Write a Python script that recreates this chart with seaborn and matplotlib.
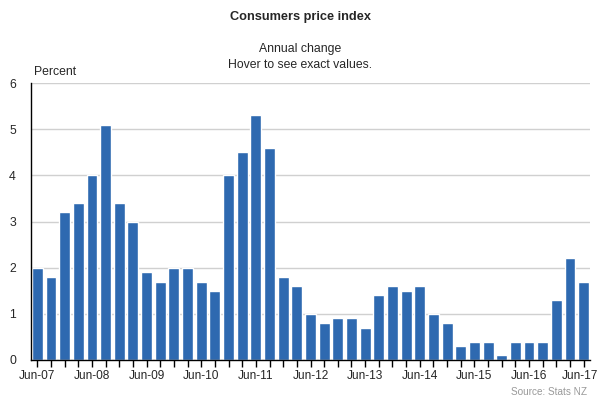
import numpy as np
import pandas as pd
import seaborn as sns
import matplotlib.pyplot as plt
import matplotlib.transforms as mtrans

quarters = ['Jun-07', 'Sep-07', 'Dec-07', 'Mar-08', 'Jun-08', 'Sep-08', 'Dec-08',
            'Mar-09', 'Jun-09', 'Sep-09', 'Dec-09', 'Mar-10', 'Jun-10', 'Sep-10',
            'Dec-10', 'Mar-11', 'Jun-11', 'Sep-11', 'Dec-11', 'Mar-12', 'Jun-12',
            'Sep-12', 'Dec-12', 'Mar-13', 'Jun-13', 'Sep-13', 'Dec-13', 'Mar-14',
            'Jun-14', 'Sep-14', 'Dec-14', 'Mar-15', 'Jun-15', 'Sep-15', 'Dec-15',
            'Mar-16', 'Jun-16', 'Sep-16', 'Dec-16', 'Mar-17', 'Jun-17']
change = [2.0, 1.8, 3.2, 3.4, 4.0, 5.1, 3.4,
          3.0, 1.9, 1.7, 2.0, 2.0, 1.7, 1.5,
          4.0, 4.5, 5.3, 4.6, 1.8, 1.6, 1.0,
          0.8, 0.9, 0.9, 0.7, 1.4, 1.6, 1.5,
          1.6, 1.0, 0.8, 0.3, 0.4, 0.4, 0.1,
          0.4, 0.4, 0.4, 1.3, 2.2, 1.7]
yticks = [0, 1, 2, 3, 4, 5, 6]

df = pd.DataFrame({'quarter': quarters, 'change': change})

sns.set_style('white')
plt.rcParams['font.family'] = ['Liberation Sans', 'DejaVu Sans']

fig = plt.figure(figsize=(6, 4), dpi=100)
ax = fig.add_axes([0.052, 0.1, 0.931, 0.6925])

sns.barplot(data=df, x='quarter', y='change', order=quarters,
            color='#2e69b0', saturation=1, width=0.8, ax=ax)

ax.set_ylim(0, 6)
ax.set_xlim(-0.45, len(quarters) - 0.55)
ax.set_yticks(yticks)
ax.set_yticklabels([str(t) for t in yticks], fontsize=8.8)
ax.yaxis.grid(True, color='#d0d0d0', linewidth=1)
ax.set_axisbelow(True)

ax.set_xticks(np.arange(len(quarters)))
ax.set_xticklabels([q if q.startswith('Jun') else '' for q in quarters], fontsize=8.6)
ax.tick_params(axis='x', direction='out', length=5, width=1, color='black',
               pad=2.5, bottom=True)
ax.tick_params(axis='y', length=0, pad=11)

# last label sits right at the edge, nudge it in a little
last = ax.get_xticklabels()[-1]
last.set_transform(last.get_transform() + mtrans.ScaledTranslation(-3 / 72, 0, fig.dpi_scale_trans))

ax.set_xlabel('')
ax.set_ylabel('')
for s in ['top', 'right']:
    ax.spines[s].set_visible(False)
for s in ['left', 'bottom']:
    ax.spines[s].set_color('black')
    ax.spines[s].set_linewidth(1)

fig.text(0.5, 0.958, 'Consumers price index', ha='center', va='center',
         fontsize=9.2, fontweight='bold')
fig.text(0.5, 0.878, 'Annual change', ha='center', va='center', fontsize=8.8)
fig.text(0.5, 0.838, 'Hover to see exact values.', ha='center', va='center', fontsize=8.8)
fig.text(0.057, 0.82, 'Percent', ha='left', va='center', fontsize=8.8)
fig.text(0.978, 0.02, 'Source: Stats NZ', ha='right', va='center',
         fontsize=7.2, color='#999999')

fig.savefig('out.png', dpi=100)
